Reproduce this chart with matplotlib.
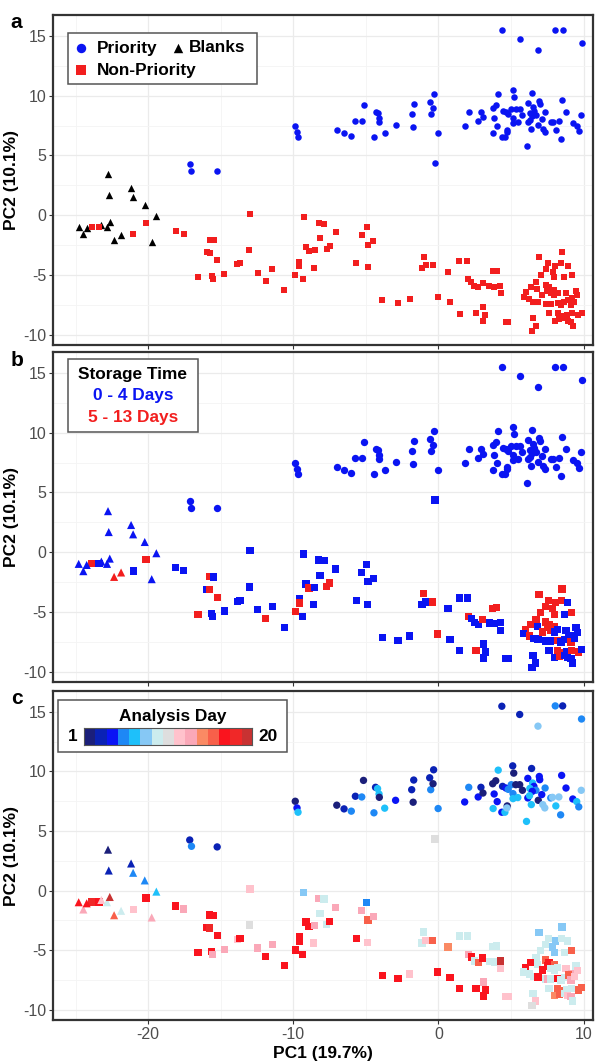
#!/usr/bin/env python3
"""PCA score plots coloured by sample type, storage time and analysis day."""

from __future__ import annotations

import matplotlib

matplotlib.use("Agg")
import matplotlib.pyplot as plt
import numpy as np
from matplotlib.colors import ListedColormap, Normalize
from matplotlib.patches import Rectangle

plt.rcParams["font.family"] = ["Liberation Sans", "DejaVu Sans"]
plt.rcParams["axes.unicode_minus"] = False

OUTPUT = "out.png"

# ---- data -----------------------------------------------------------------
# priority samples (circles); all stored 0-4 days
priority_pc1 = [
    4.37, 5.6, 6.86, 8.05, 8.56, 9.86,
    -17.13, -17.01, -15.24, -9.86, -9.74, -9.67,
    -7.0, -6.5, -6.0, -5.72, -5.28, -5.16, -4.44, -4.33, -4.19, -4.09, -4.07, -3.7, -2.95,
    -1.74, -1.84, -1.7, -0.6, -0.53, -0.37, -0.33, -0.02,
    1.81, 2.09, 2.74, 2.93, 3.07, 3.74, 3.95, 4.12, 3.84, 4.05, 3.77, 4.37, 4.58, 4.74, 4.72,
    4.42, 4.65, 4.81, 5.12, 5.19, 5.02, 5.33, 5.6, 5.14, 5.14, 5.47, 5.79, 6.07, 6.16, 6.42,
    6.49, 6.58, 6.3, 6.72, 6.47, 6.16, 6.28, 6.4, 6.88, 6.95, 6.98, 7.12, 7.35, 7.19, 7.33,
    7.74, 7.86, 8.09, 8.3, 8.49, 8.79, 8.42, 9.26, 9.53, 9.67, 9.84,
]
priority_pc2 = [
    15.47, 14.78, 13.8, 15.5, 15.5, 14.4,
    4.25, 3.72, 3.67, 7.5, 6.94, 6.58,
    7.17, 6.86, 6.67, 7.92, 7.86, 9.25, 6.53, 8.67, 8.56, 8.11, 7.83, 6.92, 7.58,
    7.42, 8.47, 9.28, 9.47, 8.47, 8.97, 10.14, 6.89,
    7.44, 8.67, 7.86, 8.67, 8.19, 8.97, 9.22, 10.11, 8.11, 7.47, 6.89, 6.58, 6.58, 7.11, 6.94,
    8.75, 8.61, 8.5, 10.47, 9.86, 8.89, 8.89, 8.89, 8.14, 7.72, 7.81, 8.42, 5.81, 9.42, 10.25,
    9.03, 8.75, 8.58, 8.42, 8.33, 7.78, 7.97, 7.22, 7.58, 9.58, 9.31, 8.06, 8.61, 7.22, 6.94,
    7.78, 7.83, 7.11, 7.86, 9.67, 8.61, 6.36, 7.69, 7.47, 7.03, 8.42,
]
priority_day = [
    3, 3, 8, 5, 3, 5,
    3, 5, 3, 1, 4, 7,
    1, 3, 5, 3, 5, 1, 5, 3, 7, 7, 1, 7, 4,
    1, 3, 3, 3, 5, 1, 3, 5,
    4, 5, 4, 3, 1, 1, 1, 7, 4, 4, 7, 4, 7, 1, 8,
    3, 4, 5, 3, 1, 5, 1, 1, 5, 7, 7, 1, 7, 4, 3,
    7, 4, 7, 5, 4, 4, 7, 7, 1, 4, 4, 4, 5, 8, 8,
    5, 8, 7, 8, 4, 4, 5, 4, 7, 5, 8,
]

# one priority sample that is drawn as a square in the storage / day panels
flagged_pc1 = [-0.26]
flagged_pc2 = [4.33]
flagged_day = [10]

# non-priority samples (squares); storage: 0 = 0-4 days, 1 = 5-13 days
nonpriority_pc1 = [
    -23.86, -23.38, -21.01, -20.14, -18.09, -17.56, -16.55, -15.93, -15.75, -15.75, -15.49,
    -15.22, -15.63, -15.54, -14.74, -13.86, -13.66, -12.99, -13.03, -12.44, -11.91, -11.43,
    -10.62, -9.86, -9.58, -9.58, -9.35, -9.28, -8.26, -7.88, -8.16, -9.12, -8.91, -8.53,
    -7.7, -7.49, -7.07, -8.6, -5.65, -5.28, -4.95, -4.84, -4.49, -4.88, -3.86, -2.79, -1.98,
    -1.02, -1.14, -0.86, -0.4, -0.05, 0.65, 0.81, 1.44, 2.0, 1.47, 2.07, 2.28, 2.47, 2.74,
    2.58, 3.05, 3.09, 3.23, 3.09, 3.51, 3.86, 4.26, 4.28, 3.74, 4.02, 4.65, 4.81,
    6.93, 8.51, 7.58, 8.05, 8.47, 8.91, 7.05, 7.4, 7.86, 7.98, 8.67, 9.19, 6.72, 6.35, 6.81,
    7.4, 7.63, 7.98, 6.0, 5.88, 6.26, 6.53, 6.86, 7.16, 7.51, 7.74, 7.98, 8.21, 8.79, 9.19,
    9.49, 9.56, 7.4, 7.56, 7.74, 8.21, 8.44, 8.67, 8.95, 9.14, 9.37, 7.63, 8.21, 8.56, 8.86,
    9.19, 9.65, 9.88, 8.02, 8.33, 8.67, 8.91, 9.14, 9.26, 6.51, 6.7, 6.44,
]
nonpriority_pc2 = [
    -0.94, -0.94, -1.56, -0.61, -1.28, -1.53, -5.19, -3.11, -3.14, -2.03, -2.06,
    -3.78, -5.11, -5.36, -4.92, -4.11, -4.03, 0.14, -2.89, -4.81, -5.53, -4.53,
    -6.28, -4.97, -3.89, -4.25, -5.36, -0.14, -0.64, -0.69, -1.94, -2.64, -3.0, -2.92,
    -2.86, -2.58, -1.39, -4.39, -4.03, -1.69, -1.0, -2.47, -2.19, -4.36, -7.11, -7.36, -7.0,
    -3.47, -4.39, -4.17, -4.17, -6.83, -4.72, -7.28, -3.81, -3.81, -8.22, -5.36, -5.56, -5.89, -6.03,
    -8.19, -5.64, -7.67, -8.33, -8.83, -5.92, -5.97, -5.89, -6.53, -4.69, -4.64, -8.89, -8.89,
    -3.53, -3.06, -4.03, -4.22, -4.03, -4.22, -5.03, -4.53, -4.72, -5.19, -5.19, -5.03, -5.61, -6.03, -6.19,
    -5.83, -6.03, -6.25, -6.44, -6.81, -7.0, -7.22, -7.25, -6.67, -6.31, -6.53, -6.67, -6.47, -6.53, -6.94,
    -6.31, -6.69, -7.42, -7.42, -7.42, -7.36, -7.5, -7.28, -7.08, -7.5, -7.22, -8.19, -8.19, -8.42, -8.33,
    -8.19, -8.33, -8.14, -8.81, -8.69, -8.61, -8.81, -8.89, -9.25, -8.61, -9.25, -9.64,
]
nonpriority_storage = [
    1, 0, 0, 1, 0, 0, 1, 0, 1, 1, 0,
    1, 0, 0, 0, 0, 0, 0, 0, 0, 1, 0,
    0, 1, 0, 1, 0, 0, 0, 0, 0, 0, 1, 0,
    1, 1, 0, 0, 0, 0, 0, 0, 0, 0, 0, 0, 0,
    1, 0, 0, 1, 1, 0, 0, 0, 0, 0, 1, 0, 0, 0,
    1, 1, 0, 0, 0, 0, 0, 0, 0, 1, 1, 0, 0,
    1, 1, 1, 1, 1, 0, 1, 1, 1, 1, 0, 1, 1, 1, 0,
    1, 1, 1, 1, 0, 1, 0, 0, 1, 1, 1, 0, 0, 0, 0,
    0, 0, 0, 0, 0, 1, 0, 0, 0, 1, 0, 0, 1, 1, 0,
    1, 1, 0, 0, 1, 0, 0, 0, 0, 0, 0, 0,
]
nonpriority_day = [
    18, 17, 12, 17, 17, 13, 17, 17, 18, 17, 17,
    17, 17, 13, 13, 12, 17, 12, 10, 13, 17, 13,
    17, 17, 17, 17, 17, 8, 13, 9, 9, 17, 17, 13,
    9, 17, 13, 12, 17, 13, 5, 15, 13, 12, 17, 17, 12,
    9, 9, 12, 15, 17, 14, 17, 9, 9, 17, 13, 17, 9, 15,
    17, 17, 13, 17, 17, 9, 9, 20, 12, 9, 9, 12, 12,
    8, 8, 9, 8, 9, 9, 9, 9, 8, 8, 9, 15, 9, 17, 9,
    15, 17, 15, 17, 9, 9, 9, 17, 17, 17, 9, 9, 9, 12, 13,
    9, 12, 9, 13, 9, 17, 9, 9, 15, 13, 12, 9, 15, 15, 9,
    9, 15, 15, 14, 15, 9, 12, 13, 9, 9, 12, 10,
]

# blanks (triangles)
blank_pc1 = [-24.78, -24.46, -24.23, -23.22, -22.83, -22.64, -22.76, -22.71,
             -22.34, -21.86, -21.17, -21.03, -20.23, -19.75, -19.43]
blank_pc2 = [-0.97, -1.58, -1.06, -0.78, -0.97, -0.53, 3.44, 1.69,
             -2.06, -1.69, 2.28, 1.5, 0.86, -2.25, -0.08]
blank_storage = [0, 0, 0, 0, 0, 0, 0, 0, 1, 1, 0, 0, 0, 0, 0]
blank_day = [17, 13, 17, 12, 9, 20, 1, 3, 15, 9, 3, 5, 5, 13, 7]

STORAGE_LABELS = ["0 - 4 Days", "5 - 13 Days"]
DAY_COLORS = ["#1B1F7A", "#0A22B5", "#0A14F5", "#1E88F5", "#1EC0FA", "#86C8F5",
              "#CCECEE", "#DEDEDE", "#FFC2CC", "#FAA8B8", "#FA8A64", "#F8604A",
              "#FA141E", "#F02828", "#C83232"]

# ---- style ----------------------------------------------------------------
BLUE = "#0A14F2"
RED = "#F21E1E"
TICK_COLOR = "#4D4D4D"
BOX_EDGE = "#555555"
FIG_W, FIG_H = 5.95, 10.63
LEFT, WIDTH = 53 / 595, 540 / 595
PANELS = {"a": (15, 345), "b": (352, 682), "c": (691, 1020)}
XLIM = (-26.55, 10.65)
YLIM = (-10.85, 16.75)
LEGEND_FONT = {"weight": "bold", "size": 12.4}


def style_axes(ax, show_xlabels: bool) -> None:
    ax.set_xlim(*XLIM)
    ax.set_ylim(*YLIM)
    ax.set_xticks([-20, -10, 0, 10])
    ax.set_xticks([-25, -15, -5, 5], minor=True)
    ax.set_yticks([-10, -5, 0, 5, 10, 15])
    ax.set_yticks(np.arange(-7.5, 16, 5), minor=True)
    ax.grid(which="major", color="#EBEBEB", linewidth=0.9, zorder=0)
    ax.grid(which="minor", color="#F4F4F4", linewidth=0.6, zorder=0)
    ax.set_axisbelow(True)
    ax.tick_params(which="major", length=3, width=0.8, color="#333333",
                   labelsize=11.5, labelcolor=TICK_COLOR, pad=2)
    ax.tick_params(which="minor", length=0)
    if not show_xlabels:
        ax.tick_params(axis="x", labelbottom=False)
    for spine in ax.spines.values():
        spine.set_color("#333333")
        spine.set_linewidth(1.6)
    ax.set_ylabel("PC2 (10.1%)", fontsize=12.5, fontweight="bold", labelpad=3)


def legend_box(ax, x0, y0, w, h) -> None:
    ax.add_patch(Rectangle((x0, y0), w, h, transform=ax.transAxes, facecolor="white",
                           edgecolor=BOX_EDGE, linewidth=1.1, zorder=5))


def legend_text(ax, x, y, label, ha="left", color="black") -> None:
    ax.text(x, y, label, transform=ax.transAxes, ha=ha, va="center", color=color,
            fontdict=LEGEND_FONT, zorder=6)


def main() -> None:
    fig = plt.figure(figsize=(FIG_W, FIG_H), dpi=100)
    axes = {}
    for key, (top, bottom) in PANELS.items():
        rect = [LEFT, 1 - bottom / 1063, WIDTH, (bottom - top) / 1063]
        axes[key] = fig.add_axes(rect)
        style_axes(axes[key], key == "c")
        fig.text(0.018, 1 - (top + 8) / 1063, key, fontsize=15, fontweight="bold",
                 ha="left", va="center")

    p1, p2 = np.array(priority_pc1), np.array(priority_pc2)
    n1, n2 = np.array(nonpriority_pc1), np.array(nonpriority_pc2)
    b1, b2 = np.array(blank_pc1), np.array(blank_pc2)
    n_store, b_store = np.array(nonpriority_storage), np.array(blank_storage)

    # panel a: sample type
    ax = axes["a"]
    ax.scatter(b1, b2, marker="^", s=28, c="black", linewidths=0, zorder=3)
    ax.scatter(n1, n2, marker="s", s=20, c=RED, linewidths=0, zorder=3)
    ax.scatter(np.r_[p1, flagged_pc1], np.r_[p2, flagged_pc2], marker="o", s=22,
               c=BLUE, linewidths=0, zorder=3)
    legend_box(ax, 0.028, 0.791, 0.35, 0.154)
    keys = [("o", BLUE, 0.052, 0.9), ("s", RED, 0.052, 0.833), ("^", "black", 0.231, 0.9)]
    for marker, color, kx, ky in keys:
        ax.scatter([kx], [ky], marker=marker, s=46, c=color, linewidths=0,
                   transform=ax.transAxes, zorder=6, clip_on=False)
    legend_text(ax, 0.081, 0.9, "Priority")
    legend_text(ax, 0.081, 0.833, "Non-Priority")
    legend_text(ax, 0.251, 0.9, "Blanks")

    # panel b: storage time
    ax = axes["b"]
    store_colors = np.array([BLUE, RED])
    ax.scatter(p1, p2, marker="o", s=28, c=BLUE, linewidths=0, zorder=3)
    ax.scatter(flagged_pc1, flagged_pc2, marker="s", s=28, c=BLUE, linewidths=0, zorder=3)
    ax.scatter(n1, n2, marker="s", s=28, c=store_colors[n_store], linewidths=0, zorder=3)
    ax.scatter(b1, b2, marker="^", s=34, c=store_colors[b_store], linewidths=0, zorder=3)
    legend_box(ax, 0.028, 0.758, 0.241, 0.221)
    legend_text(ax, 0.148, 0.933, "Storage Time", ha="center")
    for label, color, ty in zip(STORAGE_LABELS, store_colors, (0.867, 0.803)):
        legend_text(ax, 0.148, ty, label, ha="center", color=color)

    # panel c: analysis day
    ax = axes["c"]
    cmap = ListedColormap(DAY_COLORS)
    norm = Normalize(1, 20)
    ax.scatter(p1, p2, marker="o", s=28, c=priority_day, cmap=cmap, norm=norm,
               linewidths=0, zorder=3)
    ax.scatter(flagged_pc1, flagged_pc2, marker="s", s=28, c=flagged_day, cmap=cmap,
               norm=norm, linewidths=0, zorder=3)
    ax.scatter(n1, n2, marker="s", s=28, c=nonpriority_day, cmap=cmap, norm=norm,
               linewidths=0, zorder=3)
    ax.scatter(b1, b2, marker="^", s=34, c=blank_day, cmap=cmap, norm=norm,
               linewidths=0, zorder=3)
    legend_box(ax, 0.009, 0.815, 0.424, 0.158)
    legend_text(ax, 0.221, 0.923, "Analysis Day", ha="center")
    legend_text(ax, 0.036, 0.861, "1", ha="center")
    legend_text(ax, 0.399, 0.861, "20", ha="center")
    cax = ax.inset_axes([0.057, 0.836, 0.312, 0.052])
    cax.set_zorder(6)
    cax.imshow(np.arange(len(DAY_COLORS))[None, :], cmap=cmap, aspect="auto")
    cax.set_xticks([])
    cax.set_yticks([])
    for spine in cax.spines.values():
        spine.set_color(BOX_EDGE)
        spine.set_linewidth(0.8)
    ax.set_xlabel("PC1 (19.7%)", fontsize=12.5, fontweight="bold", labelpad=3)

    fig.savefig(OUTPUT, dpi=100, facecolor="white")
    plt.close(fig)


if __name__ == "__main__":
    main()
